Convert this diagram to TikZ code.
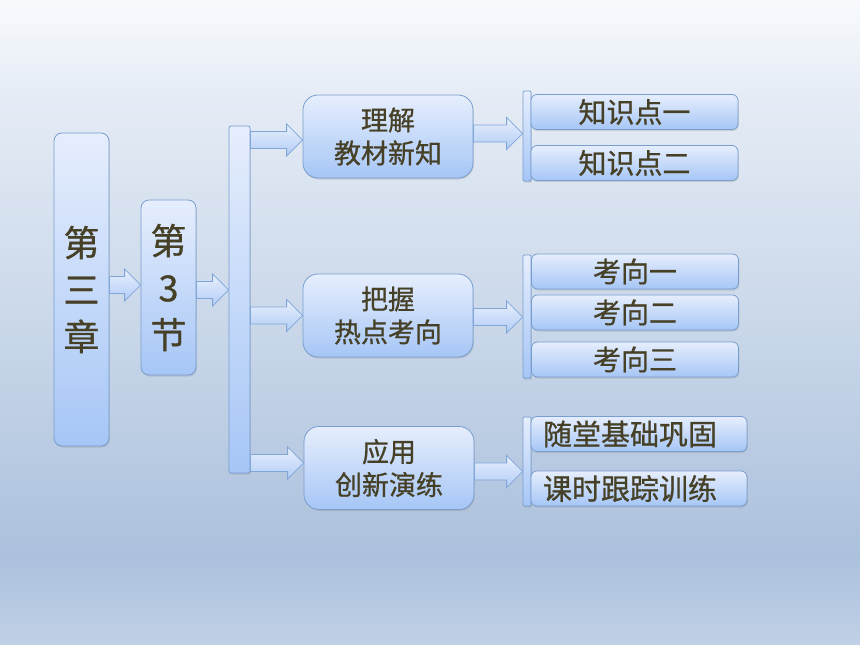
\documentclass[tikz,border=0pt]{standalone}
\usepackage{fontspec}
\newfontfamily\cjk{Noto Sans CJK SC}[FakeBold=0.8]
\usetikzlibrary{calc,shadows}
\definecolor{txt}{RGB}{70,64,38}
\definecolor{bgtop}{RGB}{248,250,253}
\definecolor{bgup}{RGB}{228,235,245}
\definecolor{bgmid}{RGB}{205,218,235}
\definecolor{bglow}{RGB}{172,193,221}
\definecolor{bgbot}{RGB}{192,208,230}
\definecolor{boxtop}{RGB}{230,238,253}
\definecolor{boxbot}{RGB}{166,198,246}
\definecolor{boxline}{RGB}{120,158,206}
\definecolor{arrtop}{RGB}{232,240,253}
\definecolor{arrbot}{RGB}{178,204,246}
\definecolor{arrline}{RGB}{128,166,216}
\pgfdeclareverticalshading{bgshade}{100bp}{color(0bp)=(bgbot); color(25bp)=(bgbot); color(32bp)=(bglow); color(52bp)=(bgmid); color(67bp)=(bgup); color(75bp)=(bgtop); color(100bp)=(bgtop)}
\newcommand\blockarr[2]{\path[arrshape] let \p1=(#1), \p2=(#2) in
  (\x1,\y1+8.5pt) -- (\x2-16pt,\y1+8.5pt) -- (\x2-16pt,\y1+16pt) -- (\x2,\y1)
  -- (\x2-16pt,\y1-16pt) -- (\x2-16pt,\y1-8.5pt) -- (\x1,\y1-8.5pt) -- cycle;}
\begin{document}
\begin{tikzpicture}[x=1pt,y=-1pt,
  shbox/.style={draw=boxline, line width=0.8pt, top color=boxtop, bottom color=boxbot,
    inner sep=0pt, text=txt, drop shadow={opacity=0.25, shadow xshift=0.8pt, shadow yshift=-1.5pt}},
  tallbox/.style={shbox, rounded corners=8pt, minimum width=55pt, font=\cjk\fontsize{36}{47}\selectfont, align=center},
  midbox/.style={shbox, rounded corners=15pt, minimum width=170pt, minimum height=83pt, font=\cjk\fontsize{27}{33}\selectfont, align=center},
  subbox/.style={shbox, rounded corners=6pt, minimum width=207pt, minimum height=35pt, font=\cjk\fontsize{28}{30}\selectfont},
  widebox/.style={subbox, minimum width=216pt, text width=192pt, align=left, font=\cjk\fontsize{29}{30}\selectfont},
  bigbar/.style={shbox, rounded corners=2pt, minimum width=21pt, minimum height=347pt},
  thinbar/.style={shbox, rounded corners=1pt, minimum width=8pt},
  arrshape/.style={draw=arrline, line width=0.8pt, top color=arrtop, bottom color=arrbot}
]
\useasboundingbox (0,0) rectangle (860,645);
\fill[shading=bgshade] (0,0) rectangle (860,645);

% left column
\node[tallbox, minimum height=313pt] (chap) at (81.5,289.5) {第\\三\\章};
\node[tallbox, minimum height=175pt] (sect) at (168.5,287.5) {第\\3\\节};
\node[bigbar] (bar) at (239.5,299.5) {};

% middle boxes
\node[midbox] (m1) at (388,136.5) {理解\\教材新知};
\node[midbox] (m2) at (388,315.5) {把握\\热点考向};
\node[midbox] (m3) at (389,468) {应用\\创新演练};

% right bars
\node[thinbar, minimum height=90pt] (r1) at (527,136) {};
\node[thinbar, minimum height=123pt] (r2) at (527,316.5) {};
\node[thinbar, minimum height=89pt] (r3) at (527,461.5) {};

% right boxes
\node[subbox] (k1) at (634.5,112) {知识点一};
\node[subbox] (k2) at (634.5,163) {知识点二};
\node[subbox] (x1) at (635,271.5) {考向一};
\node[subbox] (x2) at (635,312.5) {考向二};
\node[subbox] (x3) at (635,359.5) {考向三};
\node[widebox] (s1) at (639,434) {随堂基础巩固};
\node[widebox] (s2) at (639,488.5) {课时跟踪训练};

% arrows
\coordinate (a1s) at ([yshift=4.5pt]chap.east);
\coordinate (a2s) at ([yshift=-2.5pt]sect.east);
\coordinate (b1s) at ([yshift=-3.5pt]bar.east |- m1.west);
\coordinate (b2s) at (bar.east |- m2.west);
\coordinate (b3s) at ([yshift=5pt]bar.east |- m3.west);
\coordinate (c1s) at ([yshift=3pt]m1.east);
\coordinate (c2s) at ([yshift=-1.5pt]m2.east);
\coordinate (c3s) at ([yshift=-3.5pt]m3.east);
\blockarr{a1s}{sect.west}
\blockarr{a2s}{bar.west}
\blockarr{b1s}{m1.west}
\blockarr{b2s}{m2.west}
\blockarr{b3s}{m3.west}
\blockarr{c1s}{r1.west}
\blockarr{c2s}{r2.west}
\blockarr{c3s}{r3.west}
\end{tikzpicture}
\end{document}
